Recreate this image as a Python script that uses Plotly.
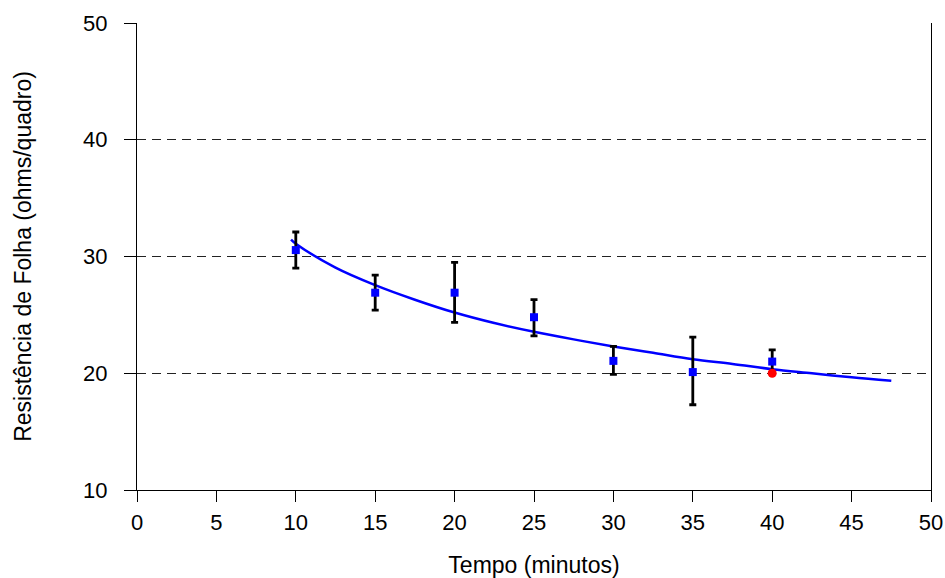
import plotly.graph_objects as go

tempo = [10, 15, 20, 25, 30, 35, 40]
resist = [30.55, 26.9, 26.9, 24.8, 21.06, 20.1, 21.0]
err_top = [32.1, 28.4, 29.5, 26.3, 22.3, 23.1, 22.0]
err_bot = [29.0, 25.4, 24.35, 23.2, 19.9, 17.3, 20.1]

red_x = [40]
red_y = [20.0]

curve_x = [9.7, 10, 12.5, 15, 17.5, 20, 22.5, 25, 27.5, 30, 32.5, 35, 37.5, 40, 42.5, 45, 47.5]
curve_y = [31.45, 31.1, 29.05, 27.55, 26.3, 25.2, 24.3, 23.55, 22.9, 22.3, 21.75, 21.2, 20.8, 20.35, 20.0, 19.65, 19.35]

x_ticks = [0, 5, 10, 15, 20, 25, 30, 35, 40, 45, 50]
y_ticks = [10, 20, 30, 40, 50]

plus = [t - v for t, v in zip(err_top, resist)]
minus = [v - b for v, b in zip(resist, err_bot)]

fig = go.Figure()
fig.add_trace(go.Scatter(
    x=curve_x, y=curve_y, mode="lines", line=dict(color="#0000FF", width=2.5, shape="spline"),
    showlegend=False, hoverinfo="skip"))
fig.add_trace(go.Scatter(
    x=tempo, y=resist, mode="markers",
    marker=dict(symbol="square", color="#0000FF", size=8),
    error_y=dict(type="data", array=plus, arrayminus=minus, color="black", thickness=2.8, width=3.5),
    showlegend=False))
fig.add_trace(go.Scatter(
    x=red_x, y=red_y, mode="markers",
    marker=dict(symbol="circle", color="#FF0000", size=9),
    showlegend=False))

font = "Liberation Sans, Arial, sans-serif"
fig.update_layout(
    width=945, height=578,
    margin=dict(l=137, r=14, t=23, b=88, autoexpand=False),
    plot_bgcolor="white", paper_bgcolor="white",
    font=dict(family=font, color="black", size=22),
    xaxis=dict(range=[0, 50], tickvals=x_ticks, ticks="outside", ticklen=11, tickcolor="black",
               showline=True, linecolor="black", linewidth=1, showgrid=False, zeroline=False,
               tickfont=dict(size=22), automargin=False, ticklabelstandoff=2,
               title=dict(text="Tempo (minutos)", font=dict(size=23), standoff=22)),
    yaxis=dict(range=[10, 50], tickvals=y_ticks, ticks="outside", ticklen=12, tickcolor="black",
               showline=True, linecolor="black", linewidth=1, mirror=True,
               showgrid=True, gridcolor="#222222", griddash="9px,6px", gridwidth=1, zeroline=False,
               tickfont=dict(size=22), automargin=False, ticklabelstandoff=12,
               title=dict(text="Resistência de Folha (ohms/quadro)", font=dict(size=23), standoff=45)),
)
fig.write_html("out.html", config={"displayModeBar": False},
               post_script="document.body.style.margin='0px';document.body.style.padding='0px';")
